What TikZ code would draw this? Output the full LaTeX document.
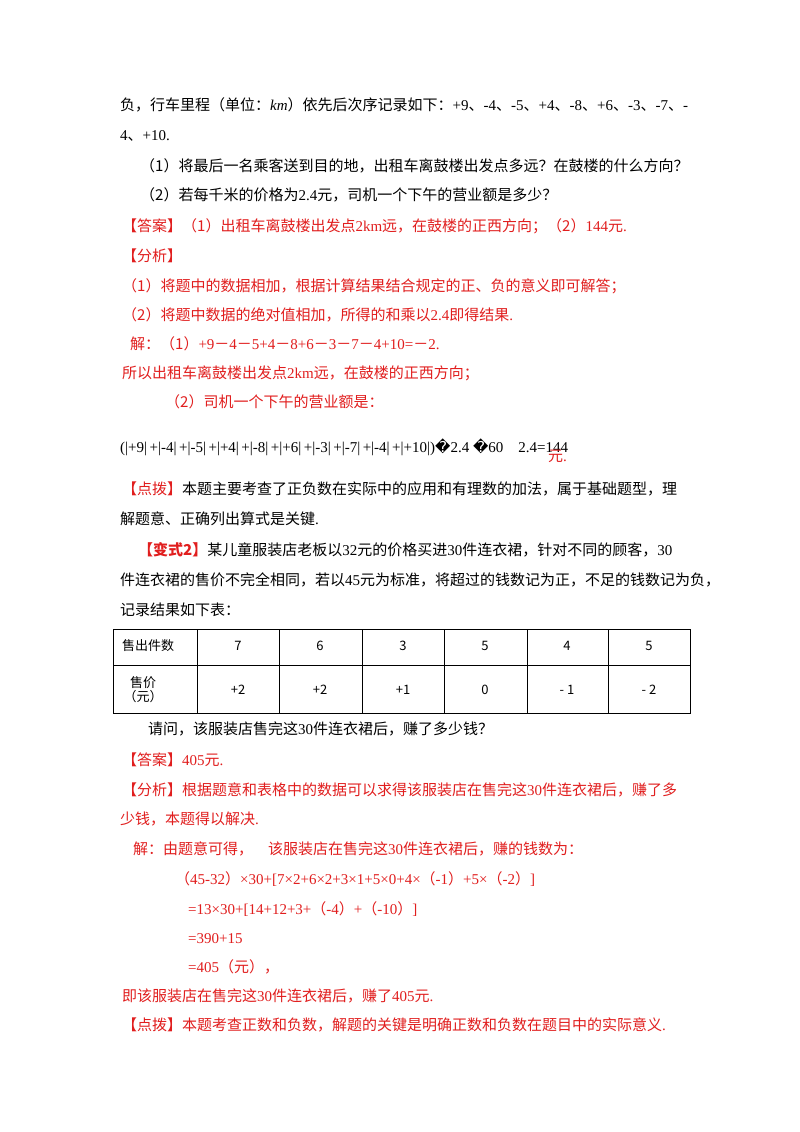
\documentclass[tikz,border=0pt]{standalone}
\usepackage{fontspec}
\setmainfont{Noto Sans CJK SC}
\newfontfamily\latf{Liberation Serif}
\newfontfamily\dejf{DejaVu Sans}
\newcommand\La[1]{{\latf #1}}
\newcommand\Rp{{\dejf\symbol{"FFFD}}}
\definecolor{rd}{RGB}{225,30,30}
\begin{document}
\begin{tikzpicture}[x=1pt,y=-1pt,
  t/.style={anchor=base west,inner sep=0pt,font=\fontsize{15}{17}\selectfont},
  r/.style={t,text=rd}]
\useasboundingbox[fill=white] (0,0) rectangle (800,1132);
\node[t] (l1) at (120,110) {负，行车里程（单位：\La{\itshape km}）依先后次序记录如下：\La{+9}、\La{-4}、\La{-5}、\La{+4}、\La{-8}、\La{+6}、\La{-3}、\La{-7}、\La{-}};
\node[t] (l2) at (120,140) {\La{4}、\La{+10.}};
\node[t] (l3) at (140,171) {（1）将最后一名乘客送到目的地，出租车离鼓楼出发点多远？在鼓楼的什么方向？};
\node[t] (l4) at (140,200) {（2）若每千米的价格为\La{2.4}元，司机一个下午的营业额是多少？};
\node[r] (l5) at (122,231) {【答案】（1）出租车离鼓楼出发点\La{2km}远，在鼓楼的正西方向；（2）\La{144}元\La{.}};
\node[r] (l6) at (122,261) {【分析】};
\node[r] (l7) at (122,291) {（1）将题中的数据相加，根据计算结果结合规定的正、负的意义即可解答；};
\node[r] (l8) at (122,320) {（2）将题中数据的绝对值相加，所得的和乘以\La{2.4}即得结果\La{.}};
\node[r] (l9) at (130,349) {解：（1）\La{+9}－\La{4}－\La{5+4}－\La{8+6}－\La{3}－\La{7}－\La{4+10=}－\La{2.}};
\node[r] (l10) at (122,378) {所以出租车离鼓楼出发点\La{2km}远，在鼓楼的正西方向；};
\node[r] (l11) at (165,407) {（2）司机一个下午的营业额是：};
\node[t] (l12) at (120,452) {\La{(|+9|\,+|-4|\,+|-5|\,+|+4|\,+|-8|\,+|+6|\,+|-3|\,+|-7|\,+|-4|\,+|+10|)}\Rp\La{2.4 }\Rp\La{60\quad 2.4=144}};
\node[r] (l12b) at (548,461) {元\La{.}};
\node[t] (l13) at (122,494) {\textcolor{rd}{【点拨】}本题主要考查了正负数在实际中的应用和有理数的加法，属于基础题型，理};
\node[t] (l14) at (120,524) {解题意、正确列出算式是关键\La{.}};
\node[t] (l15) at (138,555) {\textcolor{rd}{\bfseries【变式2】}某儿童服装店老板以\La{32}元的价格买进\La{30}件连衣裙，针对不同的顾客，\La{30}};
\node[t] (l16) at (120,585) {件连衣裙的售价不完全相同，若以\La{45}元为标准，将超过的钱数记为正，不足的钱数记为负，};
\node[t] (l17) at (120,615) {记录结果如下表：};
\draw[line width=0.9pt] (113,629) rectangle (690,713);
\draw[line width=0.9pt] (113,665) -- (690,665);
\foreach \x in {197,279,362,444,527,608} \draw[line width=0.9pt] (\x,629) -- (\x,713);
\node[font=\fontsize{13}{14}\selectfont,inner sep=0pt] (c0) at (148,646) {售出件数};
\node[font=\fontsize{13}{14}\selectfont,inner sep=0pt,align=center] (d0) at (143,690) {售价\\（元）};
\foreach \x/\a/\b in {238/7/+2,320/6/+2,403/3/+1,485/5/0,567/4/- 1,649/5/- 2}{
  \node[font=\fontsize{13}{14}\selectfont,inner sep=0pt] at (\x,646) {\a};
  \node[font=\fontsize{13}{14}\selectfont,inner sep=0pt] at (\x,690) {\b};}
\node[t] (l18) at (148,734) {请问，该服装店售完这\La{30}件连衣裙后，赚了多少钱？};
\node[r] (l19) at (122,765) {【答案】\La{405}元\La{.}};
\node[r] (l20) at (122,795) {【分析】根据题意和表格中的数据可以求得该服装店在售完这\La{30}件连衣裙后，赚了多};
\node[r] (l21) at (120,824) {少钱，本题得以解决\La{.}};
\node[r] (l22) at (133,854) {解：由题意可得，\quad 该服装店在售完这\La{30}件连衣裙后，赚的钱数为：};
\node[r] (l23) at (175,884) {（\La{45-32}）\La{×30+[7×2+6×2+3×1+5×0+4×}（\La{-1}）\La{+5×}（\La{-2}）\La{]}};
\node[r] (l24) at (188,914) {\La{=13×30+[14+12+3+}（\La{-4}）\La{+}（\La{-10}）\La{]}};
\node[r] (l25) at (188,943) {\La{=390+15}};
\node[r] (l26) at (188,972) {\La{=405}（元），};
\node[r] (l27) at (122,1001) {即该服装店在售完这\La{30}件连衣裙后，赚了\La{405}元\La{.}};
\node[r] (l28) at (122,1030) {【点拨】本题考查正数和负数，解题的关键是明确正数和负数在题目中的实际意义\La{.}};
\end{tikzpicture}
\end{document}
